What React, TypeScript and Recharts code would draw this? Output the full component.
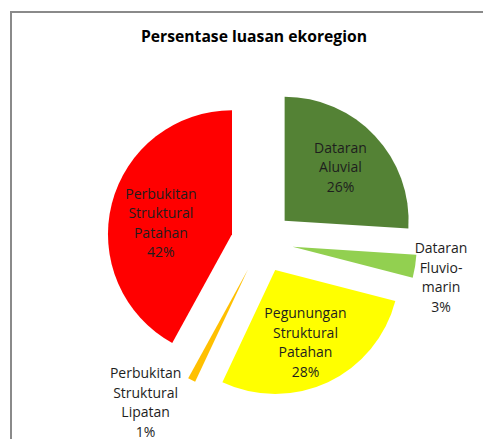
import React from 'react';
import { PieChart, Pie, Sector } from 'recharts';

const categories = [
  'Dataran Aluvial',
  'Dataran Fluvio-marin',
  'Pegunungan Struktural Patahan',
  'Perbukitan Struktural Lipatan',
  'Perbukitan Struktural Patahan',
];
const values = [26, 3, 28, 1, 42];
const labelLines = [
  ['Dataran', 'Aluvial'],
  ['Dataran', 'Fluvio-', 'marin'],
  ['Pegunungan', 'Struktural', 'Patahan'],
  ['Perbukitan', 'Struktural', 'Lipatan'],
  ['Perbukitan', 'Struktural', 'Patahan'],
];
const title = 'Persentase luasan ekoregion';

const COLORS = ['#548235', '#92D050', '#FFFF00', '#FFC000', '#FF0000'];
const EXPLODE = 31;
const LABEL_RADIUS = [0.64, 1.22, 0.63, 1.32, 0.6];
const LABEL_NUDGE = [
  [-2, 0],
  [-1, 6],
  [-3, 1],
  [-28, -14],
  [1, 6],
];
const LINE_H = 19.5;
const FONT = '"Open Sans", "Noto Sans", sans-serif';

const data = categories.map((name, i) => ({ name, value: values[i] }));

const RAD = Math.PI / 180;
const dir = (angle: number) => [Math.cos(-angle * RAD), Math.sin(-angle * RAD)];

const renderSector = (props: any) => {
  const { cx, cy, outerRadius, startAngle, endAngle, midAngle, index } = props;
  const [dx, dy] = dir(midAngle);
  return (
    <Sector
      cx={cx + dx * EXPLODE}
      cy={cy + dy * EXPLODE}
      innerRadius={0}
      outerRadius={outerRadius}
      startAngle={startAngle}
      endAngle={endAngle}
      fill={COLORS[index]}
      stroke="none"
    />
  );
};

const renderText = (props: any) => {
  const { cx, cy, outerRadius, midAngle, index, percent } = props;
  const [dx, dy] = dir(midAngle);
  const ex = cx + dx * EXPLODE;
  const ey = cy + dy * EXPLODE;
  const r = outerRadius * LABEL_RADIUS[index];
  const x = ex + dx * r + LABEL_NUDGE[index][0];
  const y = ey + dy * r + LABEL_NUDGE[index][1];
  const lines = [...labelLines[index], `${Math.round(percent * 100)}%`];
  const top = y - ((lines.length - 1) / 2) * LINE_H;
  return (
    <text
      x={x}
      y={top}
      textAnchor="middle"
      dominantBaseline="central"
      fontFamily={FONT}
      fontSize={14}
      fill="#1e1e1e"
    >
      {lines.map((l, k) => (
        <tspan key={k} x={x} y={top + k * LINE_H}>
          {l}
        </tspan>
      ))}
    </text>
  );
};

export default function App() {
  return (
    <div
      style={{
        position: 'absolute',
        left: 0,
        top: 0,
        width: 483,
        height: 439,
        overflow: 'hidden',
        background: '#fff',
      }}
    >
      <div
        style={{
          position: 'absolute',
          left: 10,
          top: 11,
          width: 520,
          height: 480,
          borderLeft: '2px solid #8a8a8a',
          borderTop: '2px solid #8a8a8a',
        }}
      />
      <div
        style={{
          position: 'absolute',
          left: 0,
          width: 508,
          top: 25,
          textAlign: 'center',
          fontFamily: FONT,
          fontWeight: 700,
          fontSize: 15.7,
          lineHeight: '22px',
          color: '#000',
        }}
      >
        {title}
      </div>
      <div style={{ position: 'absolute', left: 0, top: 0 }}>
        <PieChart width={483} height={439} margin={{ top: 0, right: 0, bottom: 0, left: 0 }}>
          <Pie
            data={data}
            dataKey="value"
            nameKey="name"
            cx={262}
            cy={242}
            outerRadius={124}
            startAngle={90}
            endAngle={-270}
            fill="none"
            stroke="none"
            label={renderSector}
            labelLine={false}
            isAnimationActive={false}
          />
          <Pie
            data={data}
            dataKey="value"
            nameKey="name"
            cx={262}
            cy={242}
            outerRadius={124}
            startAngle={90}
            endAngle={-270}
            fill="none"
            stroke="none"
            label={renderText}
            labelLine={false}
            isAnimationActive={false}
          />
        </PieChart>
      </div>
    </div>
  );
}
